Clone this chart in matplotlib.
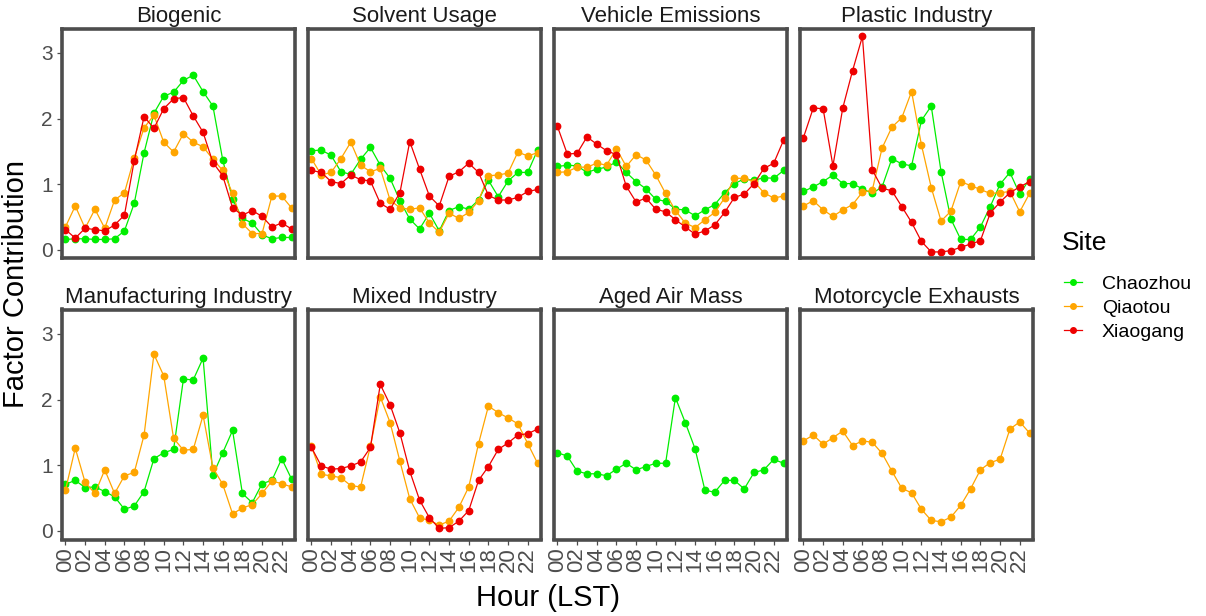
import matplotlib
matplotlib.use("Agg")
import matplotlib.pyplot as plt
from matplotlib.lines import Line2D

plt.rcParams['font.family'] = ['Liberation Sans', 'DejaVu Sans']

hours = list(range(24))
sites = ["Chaozhou", "Qiaotou", "Xiaogang"]
site_colors = {"Chaozhou": "#00EE00", "Qiaotou": "#FFA500", "Xiaogang": "#EE0000"}

factors = ["Biogenic", "Solvent Usage", "Vehicle Emissions", "Plastic Industry",
           "Manufacturing Industry", "Mixed Industry", "Aged Air Mass", "Motorcycle Exhausts"]

# factor contribution by hour, per site
biogenic = {
    "Chaozhou": [0.16, 0.17, 0.17, 0.16, 0.16, 0.17, 0.29, 0.71, 1.48, 2.08, 2.34, 2.40,
                 2.58, 2.66, 2.41, 2.19, 1.37, 0.77, 0.48, 0.41, 0.23, 0.17, 0.19, 0.19],
    "Qiaotou": [0.35, 0.67, 0.33, 0.62, 0.33, 0.76, 0.87, 1.40, 1.86, 2.05, 1.64, 1.49,
                1.77, 1.64, 1.57, 1.38, 1.21, 0.86, 0.40, 0.25, 0.25, 0.82, 0.82, 0.64],
    "Xiaogang": [0.31, 0.18, 0.33, 0.31, 0.29, 0.38, 0.53, 1.36, 2.03, 1.85, 2.15, 2.30,
                 2.32, 2.04, 1.79, 1.33, 1.13, 0.64, 0.53, 0.60, 0.51, 0.35, 0.41, 0.32],
}
solvent = {
    "Chaozhou": [1.51, 1.52, 1.44, 1.19, 1.15, 1.38, 1.56, 1.29, 1.09, 0.75, 0.47, 0.32,
                 0.56, 0.29, 0.60, 0.66, 0.62, 0.76, 1.06, 0.81, 1.05, 1.18, 1.18, 1.52],
    "Qiaotou": [1.39, 1.14, 1.18, 1.39, 1.64, 1.29, 1.19, 1.24, 0.76, 0.64, 0.62, 0.64,
                0.41, 0.27, 0.56, 0.48, 0.57, 0.75, 1.13, 1.14, 1.17, 1.49, 1.43, 1.48],
    "Xiaogang": [1.21, 1.18, 1.04, 1.01, 1.14, 1.07, 1.05, 0.71, 0.62, 0.87, 1.65, 1.23,
                 0.82, 0.67, 1.12, 1.19, 1.32, 1.18, 0.83, 0.76, 0.76, 0.80, 0.89, 0.92],
}
vehicle = {
    "Chaozhou": [1.27, 1.29, 1.28, 1.18, 1.23, 1.26, 1.34, 1.18, 1.04, 0.93, 0.77, 0.74,
                 0.62, 0.61, 0.52, 0.61, 0.69, 0.87, 1.01, 1.08, 1.06, 1.10, 1.09, 1.21],
    "Qiaotou": [1.18, 1.19, 1.26, 1.26, 1.32, 1.29, 1.54, 1.27, 1.45, 1.37, 1.14, 0.86,
                0.60, 0.41, 0.34, 0.46, 0.57, 0.79, 1.09, 1.09, 1.04, 0.87, 0.79, 0.82],
    "Xiaogang": [1.88, 1.46, 1.47, 1.72, 1.61, 1.51, 1.45, 0.97, 0.73, 0.79, 0.62, 0.58,
                 0.46, 0.35, 0.24, 0.29, 0.38, 0.57, 0.80, 0.85, 1.01, 1.24, 1.32, 1.67],
}
plastic = {
    "Chaozhou": [0.89, 0.96, 1.04, 1.14, 1.01, 1.01, 0.93, 0.86, 0.96, 1.39, 1.31, 1.28,
                 1.97, 2.19, 1.19, 0.47, 0.16, 0.16, 0.35, 0.66, 1.00, 1.18, 0.85, 1.08],
    "Qiaotou": [0.67, 0.75, 0.61, 0.51, 0.61, 0.69, 0.88, 0.91, 1.55, 1.87, 2.01, 2.41,
                1.60, 0.95, 0.44, 0.59, 1.04, 0.98, 0.92, 0.86, 0.87, 0.89, 0.58, 0.86],
    "Xiaogang": [1.71, 2.16, 2.15, 1.28, 2.16, 2.73, 3.25, 1.22, 0.94, 0.90, 0.66, 0.42,
                 0.13, -0.03, -0.03, -0.01, 0.04, 0.09, 0.14, 0.56, 0.73, 0.87, 0.96, 1.04],
}
manufacturing = {
    "Chaozhou": [0.71, 0.77, 0.66, 0.67, 0.60, 0.52, 0.33, 0.38, 0.60, 1.10, 1.19, 1.24,
                 2.31, 2.30, 2.63, 0.85, 1.19, 1.53, 0.57, 0.43, 0.72, 0.77, 1.10, 0.79],
    "Qiaotou": [0.62, 1.26, 0.74, 0.57, 0.93, 0.57, 0.84, 0.89, 1.46, 2.69, 2.36, 1.41,
                1.23, 1.24, 1.76, 0.96, 0.71, 0.26, 0.35, 0.40, 0.57, 0.76, 0.72, 0.67],
}
mixed = {
    "Qiaotou": [1.29, 0.86, 0.84, 0.81, 0.69, 0.67, 1.29, 2.04, 1.65, 1.06, 0.49, 0.20,
                0.16, 0.09, 0.15, 0.36, 0.67, 1.33, 1.90, 1.80, 1.72, 1.63, 1.33, 1.03],
    "Xiaogang": [1.27, 0.99, 0.94, 0.95, 0.99, 1.05, 1.27, 2.23, 1.92, 1.49, 0.91, 0.47,
                 0.20, 0.04, 0.05, 0.15, 0.31, 0.77, 0.98, 1.24, 1.34, 1.46, 1.48, 1.55],
}
aged = {
    "Chaozhou": [1.19, 1.14, 0.91, 0.87, 0.87, 0.84, 0.94, 1.03, 0.93, 0.98, 1.03, 1.03,
                 2.03, 1.65, 1.25, 0.62, 0.59, 0.77, 0.77, 0.64, 0.89, 0.93, 1.09, 1.03],
}
motorcycle = {
    "Qiaotou": [1.37, 1.46, 1.32, 1.42, 1.52, 1.30, 1.37, 1.35, 1.18, 0.91, 0.65, 0.58,
                0.33, 0.16, 0.14, 0.21, 0.39, 0.64, 0.93, 1.04, 1.09, 1.55, 1.66, 1.49],
}
panel_data = [biogenic, solvent, vehicle, plastic, manufacturing, mixed, aged, motorcycle]

W, H = 1206, 616
fig = plt.figure(figsize=(W / 100, H / 100), dpi=100)

lefts = [62, 308, 554, 800]
tops = [28.5, 309.5]
pw, ph = 233, 230
grey = "#4D4D4D"

for i, (name, data) in enumerate(zip(factors, panel_data)):
    r, c = divmod(i, 4)
    ax = fig.add_axes([lefts[c] / W, (H - tops[r] - ph) / H, pw / W, ph / H])
    for s in sites:
        if s in data:
            ax.plot(hours, data[s], color=site_colors[s], lw=0.9, marker="o", ms=4.6,
                    mec=site_colors[s])
    ax.set_xlim(-0.35, 23.35)
    ax.set_ylim(-0.13, 3.37)
    ax.set_xticks(range(0, 24, 2))
    ax.set_xticklabels([f"{h:02d}" for h in range(0, 24, 2)], rotation=90)
    ax.set_yticks([0, 1, 2, 3])
    for sp in ax.spines.values():
        sp.set_color(grey)
        sp.set_linewidth(2.6)
    ax.tick_params(colors=grey, length=3.5, width=0.9, pad=2)
    ax.tick_params(axis="x", labelsize=16)
    ax.tick_params(axis="y", labelsize=15, pad=3)
    if c != 0:
        ax.tick_params(axis="y", left=False, labelleft=False)
    if r == 0:
        ax.tick_params(axis="x", bottom=False, labelbottom=False)
    ax.set_title(name, fontsize=16, color="#1A1A1A", pad=5)

fig.text(547.5 / W, 1 - 598 / H, "Hour (LST)", fontsize=21, ha="center", va="center")
fig.text(16 / W, 1 - 284 / H, "Factor Contribution", fontsize=21, ha="center",
         va="center", rotation=90)

# legend: title and entries placed separately to match the spacing
fig.text(1062 / W, 1 - 243 / H, "Site", fontsize=19, ha="left", va="center")
handles = [Line2D([], [], color=site_colors[s], lw=0.9, marker="o", ms=4) for s in sites]
leg = fig.legend(handles, sites, loc="upper left", bbox_to_anchor=(1064 / W, 1 - 275 / H),
                 frameon=False, fontsize=14, handlelength=0.95, handletextpad=1.0,
                 labelspacing=0.33, borderpad=0, borderaxespad=0)

fig.savefig("out.png", dpi=100)
